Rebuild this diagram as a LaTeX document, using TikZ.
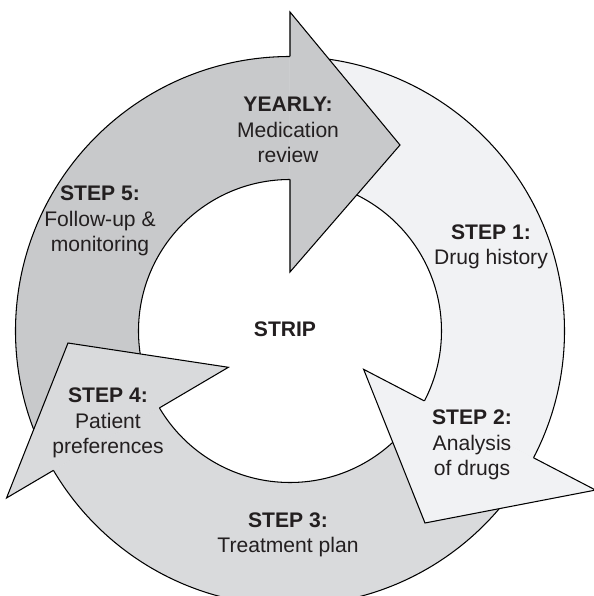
\documentclass[tikz,border=0pt]{standalone}
\usepackage{fontspec}
\setmainfont{Liberation Sans}
\usepackage{tikz}

\definecolor{darkarrow}{HTML}{C8C9CB}
\definecolor{midarrow}{HTML}{D9DADC}
\definecolor{lightarrow}{HTML}{F1F2F4}
\definecolor{textgray}{HTML}{231F20}

\begin{document}
\begin{tikzpicture}[
  steptext/.style={align=center, text=textgray, font=\fontsize{12}{14.5}\selectfont},
  ringedge/.style={line width=0.6pt, line join=miter}
]
\useasboundingbox (-5.8,-5.3) rectangle (6.06,6.62);

% Ring bodies
\fill[darkarrow] (90:5.49) arc[start angle=90, end angle=210.5, radius=5.49]
  -- (210.5:3.03) arc[start angle=210.5, end angle=90, radius=3.03] -- cycle;
\fill[midarrow] (210.5:5.49) arc[start angle=210.5, end angle=332.5, radius=5.49]
  -- (332.5:3.03) arc[start angle=332.5, end angle=210.5, radius=3.03] -- cycle;
\fill[lightarrow] (-27.5:5.49) arc[start angle=-27.5, end angle=90, radius=5.49]
  -- (90:3.03) arc[start angle=90, end angle=-27.5, radius=3.03] -- cycle;

% Ring edges
\draw[ringedge] (0,0) circle[radius=5.49];
\draw[ringedge] (0,0) circle[radius=3.03];

% Arrow heads
\fill[darkarrow] (90:6.38) -- (2.2,3.72) -- (90:1.18) -- cycle;
\draw[ringedge] (90:5.49) -- (90:6.38) -- (2.2,3.72) -- (90:1.18) -- (90:3.03);

\fill[lightarrow] (-27.5:1.66) -- (2.7,-3.84) -- (-27.5:6.89) -- cycle;
\draw[ringedge] (-27.5:3.03) -- (-27.5:1.66) -- (2.7,-3.84) -- (-27.5:6.89) -- (-27.5:5.49);

\fill[midarrow] (210.5:1.43) -- (-4.44,-0.24) -- (210.5:6.58) -- cycle;
\draw[ringedge] (210.5:3.03) -- (210.5:1.43) -- (-4.44,-0.24) -- (210.5:6.58) -- (210.5:5.49);

% Labels
\node[steptext] (strip) at (-0.1,0.04) {\textbf{STRIP}};
\node[steptext] (yearly) at (-0.04,4.02) {\textbf{YEARLY:}\\Medication\\review};
\node[steptext] (step1) at (4.02,1.68) {\textbf{STEP 1:}\\Drug history};
\node[steptext] (step2) at (3.64,-2.28) {\textbf{STEP 2:}\\Analysis\\of drugs};
\node[steptext] (step3) at (-0.04,-4.08) {\textbf{STEP 3:}\\Treatment plan};
\node[steptext] (step4) at (-3.64,-1.84) {\textbf{STEP 4:}\\Patient\\preferences};
\node[steptext] (step5) at (-3.8,2.2) {\textbf{STEP 5:}\\Follow-up \&\\monitoring};

\end{tikzpicture}
\end{document}
